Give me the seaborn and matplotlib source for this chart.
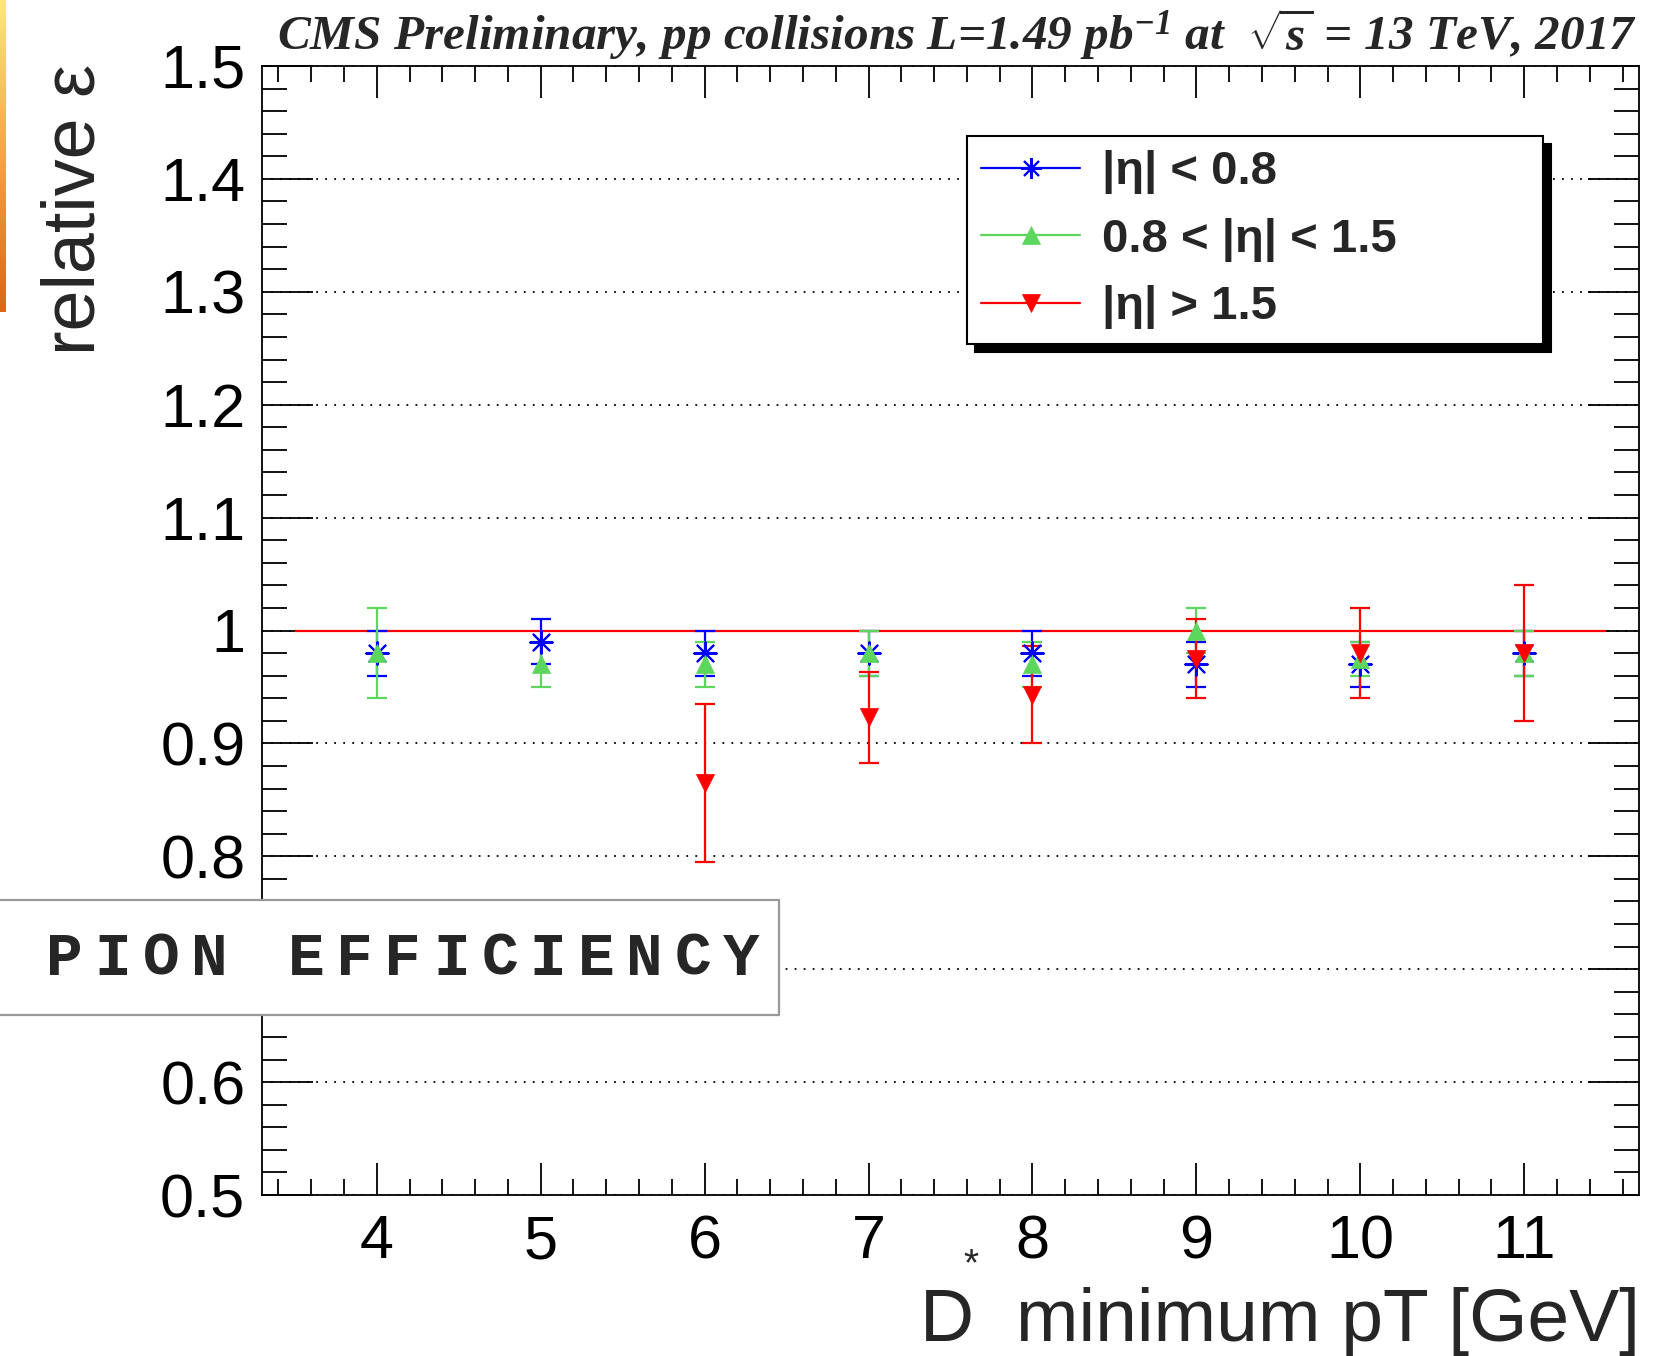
import numpy as np
import pandas as pd
import seaborn as sns
import matplotlib.pyplot as plt
from matplotlib.ticker import MultipleLocator, FuncFormatter
from matplotlib.lines import Line2D
from matplotlib.patches import Rectangle
from matplotlib.colors import LinearSegmentedColormap

# relative pion efficiency vs D* minimum pT, three eta regions
pt_all = [4, 5, 6, 7, 8, 9, 10, 11]
pt_fwd = [6, 7, 8, 9, 10, 11]

eff_central = [0.98, 0.99, 0.98, 0.98, 0.98, 0.97, 0.97, 0.98]
err_central = [0.02, 0.02, 0.02, 0.02, 0.02, 0.02, 0.02, 0.02]

eff_mid = [0.98, 0.97, 0.97, 0.98, 0.97, 1.00, 0.975, 0.98]
err_mid = [0.04, 0.02, 0.02, 0.02, 0.02, 0.02, 0.015, 0.02]

eff_fwd = [0.865, 0.923, 0.943, 0.975, 0.98, 0.98]
err_fwd = [0.07, 0.04, 0.043, 0.035, 0.04, 0.06]

labels = ["|η| < 0.8", "0.8 < |η| < 1.5", "|η| > 1.5"]
colors = ["#0000ff", "#5cd65c", "#ff0000"]
markers = [(8, 2, 0), "^", "v"]

series = [
    (pt_all, eff_central, err_central),
    (pt_all, eff_mid, err_mid),
    (pt_fwd, eff_fwd, err_fwd),
]

sns.set_style("ticks")
plt.rcParams['font.family'] = ['Liberation Sans', 'DejaVu Sans']
plt.rcParams['mathtext.fontset'] = 'custom'
plt.rcParams['mathtext.rm'] = 'Liberation Serif:bold:italic'
plt.rcParams['mathtext.it'] = 'Liberation Serif:bold:italic'
plt.rcParams['mathtext.bf'] = 'Liberation Serif:bold:italic'

W, H = 1661, 1356
fig = plt.figure(figsize=(W / 100, H / 100), dpi=100)
ax = fig.add_axes([262 / W, 1 - 1195 / H, (1639 - 262) / W, (1195 - 66) / H])

ax.hlines(1.0, 3.5, 11.5, color="#ff0000", lw=1.6, zorder=2)

for (x, y, e), lab, c, m in zip(series, labels, colors, markers):
    ax.errorbar(x, y, yerr=e, fmt="none", ecolor=c, elinewidth=1.6,
                capsize=7, capthick=1.6, zorder=3)
    df = pd.DataFrame({"pt": x, "eff": y})
    if m == markers[0]:
        sns.scatterplot(data=df, x="pt", y="eff", marker=m, color=c, s=260,
                        linewidth=1.5, ax=ax, zorder=4)
    else:
        sns.scatterplot(data=df, x="pt", y="eff", marker=m, color=c, s=170,
                        edgecolor=c, linewidth=0.5, ax=ax, zorder=4)

ax.set_xlim(3.3, 11.7)
ax.set_ylim(0.5, 1.5)
ax.set_xlabel("")
ax.set_ylabel("")
ax.xaxis.set_major_locator(MultipleLocator(1))
ax.xaxis.set_minor_locator(MultipleLocator(0.2))
ax.yaxis.set_major_locator(MultipleLocator(0.1))
ax.yaxis.set_minor_locator(MultipleLocator(0.02))
# the 0.7 label sits under the slide's title box
ax.yaxis.set_major_formatter(FuncFormatter(lambda v, p: '' if abs(v - 0.7) < 1e-6 else f'{v:g}'))
ax.yaxis.grid(True, which='major', color='black', linestyle=(0, (1, 4)), lw=1.3)
ax.set_axisbelow(True)

ax.tick_params(which='both', direction='in', top=True, right=True,
               width=1.3, color='black', labelcolor='black')
ax.tick_params(axis='y', which='major', length=37, pad=12, labelsize=44)
ax.tick_params(axis='y', which='minor', length=18)
ax.tick_params(axis='x', which='major', length=23, pad=14, labelsize=44)
ax.tick_params(axis='x', which='minor', length=11.5)
for sp in ax.spines.values():
    sp.set_visible(True)
    sp.set_linewidth(1.3)
    sp.set_color('black')

# legend
handles = [Line2D([], [], color=c, marker=m, markersize=13 if i else 15,
                  markeredgewidth=1.5 if i == 0 else 0.5, lw=1.6)
           for i, (c, m) in enumerate(zip(colors, markers))]
leg = ax.legend(handles, labels, loc='upper left',
                bbox_to_anchor=(0.512, 0.756, 0.418, 0.182), mode='expand',
                borderaxespad=0, frameon=True, fancybox=False,
                edgecolor='black', framealpha=1,
                prop={'family': 'Liberation Sans', 'weight': 'bold', 'size': 34},
                handlelength=2.1, handletextpad=0.45, labelspacing=0.5,
                borderpad=0.3,
                shadow={'ox': 6, 'oy': -6, 'facecolor': 'black',
                        'edgecolor': 'black', 'alpha': 1})
leg.get_frame().set_linewidth(1.5)

# texts
fig.text(277 / W, 1 - 50 / H,
         r"CMS Preliminary, pp collisions L=1.49 pb$^{-1}$ at  $\sqrt{s}$ = 13 TeV, 2017",
         family='Liberation Serif', weight='bold', style='italic',
         fontsize=35.5, ha='left', va='baseline')
fig.text(75 / W, 1 - 64 / H, "relative ε", rotation=90, ha='center', va='top',
         fontsize=53)
fig.text(1640 / W, 1 - 1341 / H, "D  minimum pT [GeV]", ha='right',
         va='baseline', fontsize=54)
fig.text(971 / W, 1 - 1265 / H, "*", ha='center', va='center', fontsize=28)

# slide overlay box
fig.add_artist(Rectangle((-0.01, 1 - 1015 / H), 779 / W + 0.01, 115 / H,
                         transform=fig.transFigure, facecolor='white',
                         edgecolor='#999999', lw=1.6, zorder=5))
for i, ch in enumerate("PION EFFICIENCY"):
    fig.text((64 + i * 48.4) / W, 1 - 959 / H, ch, ha='center', va='center',
             family='Liberation Mono', weight='bold', fontsize=44, zorder=6)

# orange strip at the left edge
cmap = LinearSegmentedColormap.from_list("strip", ["#fbe878", "#f0a840", "#e06414"])
sax = fig.add_axes([0, 1 - 312 / H, 6 / W, 312 / H])
sax.imshow(np.linspace(0, 1, 100)[:, None], aspect='auto', cmap=cmap)
sax.axis('off')

fig.savefig("out.png", dpi=100, facecolor='white')
